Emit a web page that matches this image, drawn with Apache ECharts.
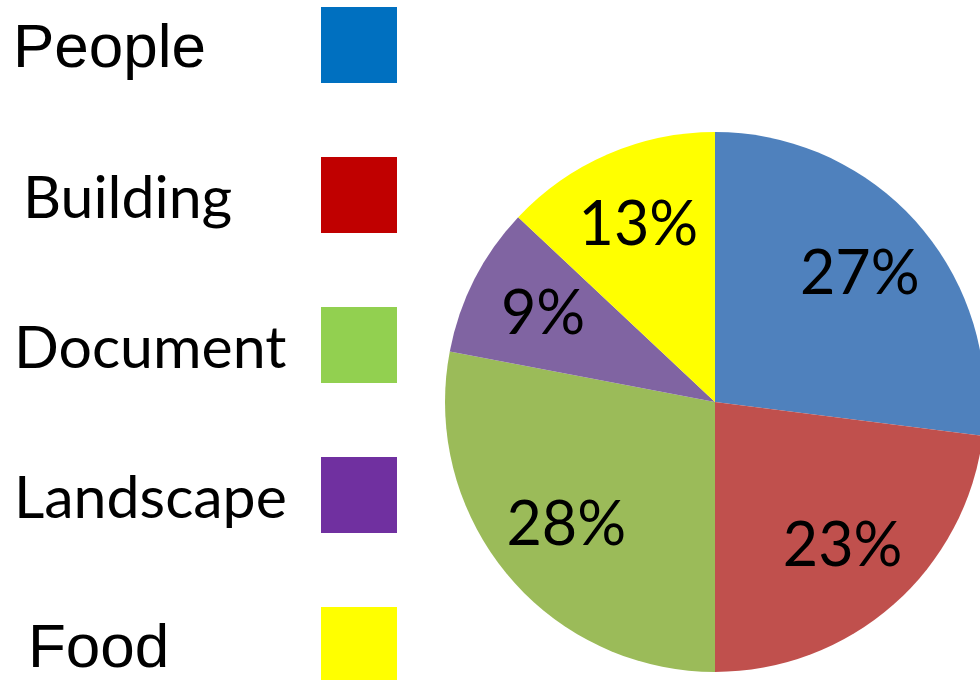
<!DOCTYPE html>
<html>
<head>
<meta charset="utf-8">
<script src="https://cdn.jsdelivr.net/npm/echarts@6/dist/echarts.min.js"></script>
<style>
  html, body { margin: 0; padding: 0; background: #ffffff; }
  #main { width: 980px; height: 680px; }
</style>
</head>
<body>
<div id="main"></div>
<script>
// data
const categories = ['People', 'Building', 'Document', 'Landscape', 'Food'];
const shares = [27, 23, 28, 9, 13];
const pieColors = ['#4F81BD', '#C0504D', '#9BBB59', '#8064A2', '#FFFF00'];
const swatchColors = ['#0070C0', '#C00000', '#92D050', '#7030A0', '#FFFF00'];

// legend layout (text left offset, font) - the original slide is a bit uneven
const legendText = [
  { x: 13, font: '62px "Liberation Sans", Arial, sans-serif' },
  { x: 23, font: '59px Lato, sans-serif' },
  { x: 14, font: '59px Lato, sans-serif' },
  { x: 14, font: '59px Lato, sans-serif' },
  { x: 28, font: '62px "Liberation Sans", Arial, sans-serif' }
];

const chart = echarts.init(document.getElementById('main'));

const pieData = categories.map((name, i) => ({
  name: name,
  value: shares[i],
  itemStyle: { color: pieColors[i] }
}));

// legend drawn by hand: label on the left, square on the right
const graphics = [];
categories.forEach((name, i) => {
  const top = 7 + i * 150;
  graphics.push({
    type: 'rect',
    left: 321,
    top: top,
    shape: { width: 76, height: 76 },
    style: { fill: swatchColors[i] },
    silent: true
  });
  graphics.push({
    type: 'text',
    left: legendText[i].x,
    top: top + 12,
    style: {
      text: name,
      font: legendText[i].font,
      fill: '#000000'
    },
    silent: true
  });
});

const option = {
  animation: false,
  graphic: graphics,
  series: [
    {
      // the pie itself
      type: 'pie',
      center: [715, 402],
      radius: [0, 270],
      startAngle: 90,
      clockwise: true,
      silent: true,
      label: { show: false },
      labelLine: { show: false },
      itemStyle: { borderWidth: 0 },
      data: pieData
    },
    {
      // transparent ring that carries the labels further out
      type: 'pie',
      center: [715, 402],
      radius: [110, 270],
      startAngle: 90,
      clockwise: true,
      silent: true,
      itemStyle: { color: 'rgba(0,0,0,0)', borderWidth: 0 },
      label: {
        show: true,
        position: 'inside',
        formatter: p => p.value + '%',
        fontFamily: 'Lato, sans-serif',
        fontSize: 61,
        color: '#000000'
      },
      labelLine: { show: false },
      data: categories.map((name, i) => ({ name: name, value: shares[i] }))
    }
  ]
};

chart.setOption(option);
</script>
</body>
</html>
